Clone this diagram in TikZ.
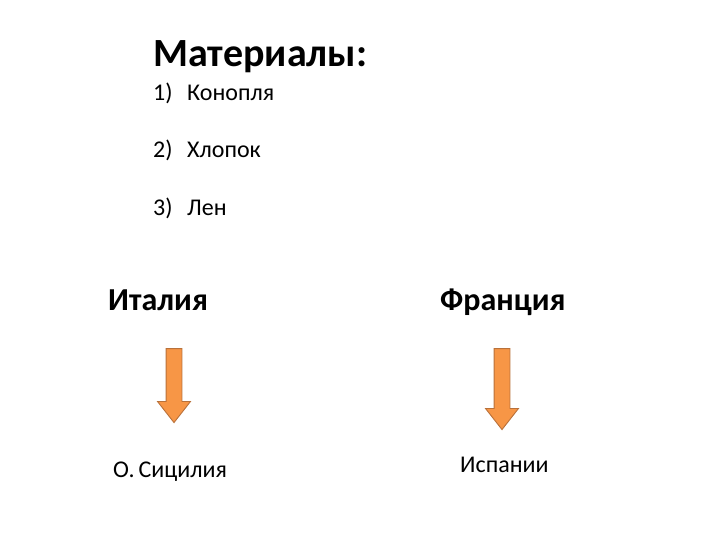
\documentclass[tikz,border=0pt]{standalone}
\usepackage{fontspec}
\setmainfont{Carlito}
\usetikzlibrary{shapes.arrows}
\definecolor{arrowfill}{HTML}{F79646}
\definecolor{arrowline}{HTML}{B9713A}

\begin{document}
\begin{tikzpicture}[%
  x=1pt, y=-1pt, % one unit = one pixel of the slide
  titlebox/.style={anchor=base west, inner sep=0pt, font=\fontsize{40}{48}\selectfont\bfseries},
  itembox/.style={anchor=base west, inner sep=0pt, font=\fontsize{24}{29}\selectfont},
  headbox/.style={anchor=base west, inner sep=0pt, font=\fontsize{32}{38}\selectfont\bfseries},
  arrowbox/.style={single arrow, rotate=-90, draw=arrowline, fill=arrowfill, line width=0.9pt,
    inner sep=7.5pt, single arrow head extend=8.5pt, single arrow head indent=0pt,
    single arrow tip angle=76}
]
\useasboundingbox (0,0) rectangle (720,540);

% Materials list
\node[titlebox] (mat) at (153,67) {Материалы:};
\node[itembox] (item1) at (153,101) {\makebox[34pt][l]{1)}Конопля};
\node[itembox] (item2) at (153,158) {\makebox[34pt][l]{2)}Хлопок};
\node[itembox] (item3) at (153,215) {\makebox[34pt][l]{3)}Лен};

% Countries
\node[headbox] (italy) at (108,310) {Италия};
\node[headbox] (france) at (440,310) {Франция};

% Block arrows
\node[arrowbox, minimum height=74pt] (arrowL) at (174,380.5) {};
\node[arrowbox, minimum height=81pt] (arrowR) at (502,384) {};

% Targets
\node[itembox] (sicily) at (113,477) {О.\,Сицилия};
\node[itembox] (spain) at (460,472) {Испании};

\end{tikzpicture}
\end{document}
